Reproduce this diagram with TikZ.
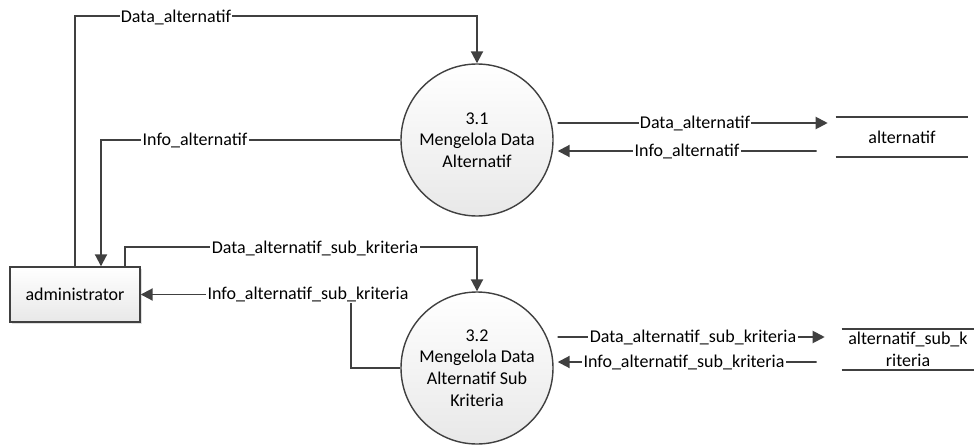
\documentclass[tikz,border=0pt]{standalone}
\usepackage{fontspec}
\setmainfont{Carlito}
\usetikzlibrary{arrows.meta,shadows}

\newcommand{\dfdfont}{\fontsize{12.8}{15.4}\selectfont}

\begin{document}
\begin{tikzpicture}[
    flow/.style={draw=linecolor, line width=1.4pt, -{Triangle[length=0.3cm,width=0.3cm]}},
    storeline/.style={draw=linecolor, line width=1.2pt},
    lbl/.style={fill=white, inner sep=1pt, font=\dfdfont},
    process/.style={circle, draw=linecolor, line width=1pt, minimum size=3.8cm, inner sep=0pt,
        align=center, top color=white, bottom color=shadecolor, font=\dfdfont},
    entity/.style={rectangle, draw=linecolor, line width=1pt, minimum width=3.25cm,
        minimum height=1.375cm, top color=white, bottom color=shadecolor, font=\dfdfont,
        drop shadow={opacity=0.25, shadow xshift=0.06cm, shadow yshift=-0.06cm}},
    store/.style={minimum width=3.3cm, minimum height=1cm, inner sep=0pt, align=center, font=\dfdfont}
]
    % Define the colors
    \definecolor{linecolor}{RGB}{64, 64, 64}
    \definecolor{shadecolor}{RGB}{232, 232, 232}

    \useasboundingbox (0,0) rectangle (24.45,11.1);

    % Draw the external entity
    \node[entity] (adm) at (1.875,3.7375) {administrator};

    % Draw the processes
    \node[process] (p31) at (11.925,7.6) {3.1\\Mengelola Data\\Alternatif};
    \node[process] (p32) at (11.925,1.9) {3.2\\Mengelola Data\\Alternatif Sub\\Kriteria};

    % Draw the data stores
    \node[store] (s31) at (22.55,7.675) {alternatif};
    \node[store] (s32) at (22.7,2.3625) {alternatif\_sub\_k\\riteria};
    \draw[storeline] (s31.north west) -- (s31.north east) (s31.south west) -- (s31.south east);
    \draw[storeline] (s32.north west) -- (s32.north east) (s32.south west) -- (s32.south east);

    % Draw the flows between administrator and the processes
    \draw[flow] (adm.north) |- ([yshift=1.175cm]p31.north) -- (p31.north);
    \draw[flow] (p31.west) -| ([xshift=0.65cm]adm.north);
    \draw[flow] ([xshift=1.25cm]adm.north) |- ([yshift=1.1cm]p32.north) -- (p32.north);
    \draw[flow] (p32.west) -- ([xshift=-1.225cm]p32.west) |- (adm.east);

    % Draw the flows between the processes and the data stores
    \draw[flow] ([shift={(0.1,0.425)}]p31.east) -- ([shift={(-0.2,0.35)}]s31.west);
    \draw[flow] ([shift={(-0.475,-0.35)}]s31.west) -- ([shift={(0.1,-0.275)}]p31.east);
    \draw[flow] ([shift={(0.1,0.775)}]p32.east) -- ([shift={(-0.425,0.3125)}]s32.west);
    \draw[flow] ([shift={(-0.625,-0.3125)}]s32.west) -- ([shift={(0.1,0.15)}]p32.east);

    % Draw the flow labels
    \node[lbl] (lda) at (4.4,10.675) {Data\_alternatif};
    \node[lbl] (lia) at (4.875,7.6) {Info\_alternatif};
    \node[lbl] (lds) at (7.875,4.9) {Data\_alternatif\_sub\_kriteria};
    \node[lbl] (lis) at (7.7,3.7375) {Info\_alternatif\_sub\_kriteria};
    \node[lbl] (ldastore) at (17.375,8.025) {Data\_alternatif};
    \node[lbl] (liastore) at (17.175,7.325) {Info\_alternatif};
    \node[lbl] (ldsstore) at (17.325,2.675) {Data\_alternatif\_sub\_kriteria};
    \node[lbl] (lisstore) at (17.1,2.05) {Info\_alternatif\_sub\_kriteria};

\end{tikzpicture}
\end{document}
